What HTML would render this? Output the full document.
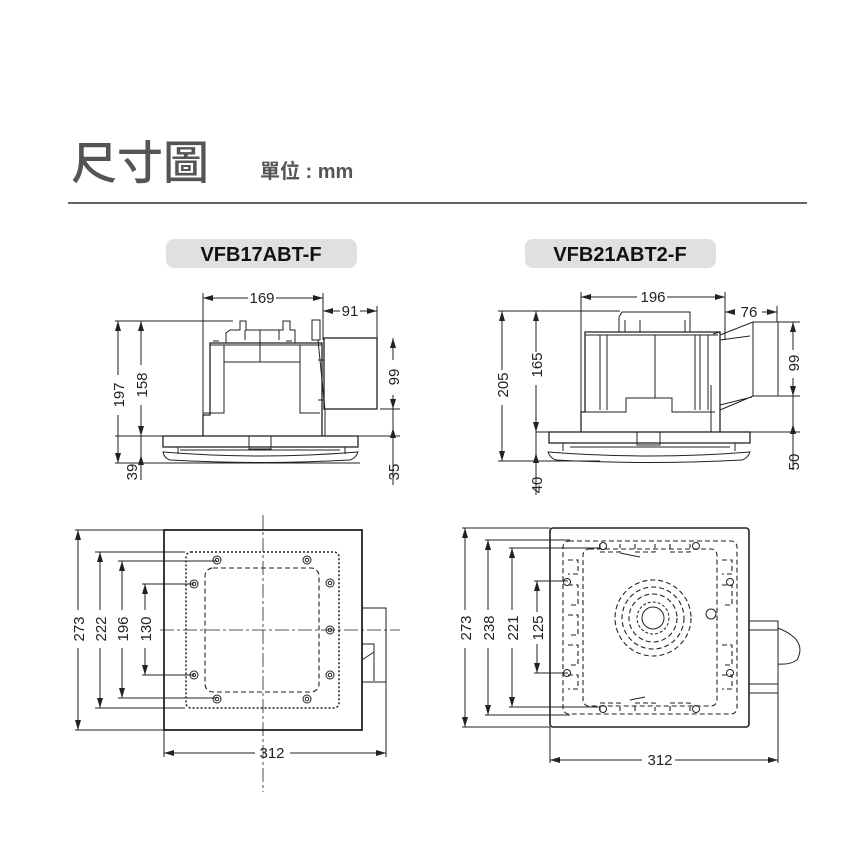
<!DOCTYPE html>
<html><head><meta charset="utf-8"><style>
html,body{margin:0;padding:0;background:#fff}
svg{display:block}
.t{font-family:"Liberation Sans",sans-serif;font-size:15px;fill:#222}
.l{stroke:#222;stroke-width:1;fill:none}
.b{stroke:#222;stroke-width:1.3;fill:none}
.d{stroke:#222;stroke-width:1.1;fill:none;stroke-dasharray:5 3}
.dt{stroke:#222;stroke-width:1.5;fill:none;stroke-dasharray:2 2}
.c{stroke:#222;stroke-width:0.8;fill:none;stroke-dasharray:14 3 3 3}
</style></head><body>
<svg width="850" height="850" viewBox="0 0 850 850" xmlns="http://www.w3.org/2000/svg">
<defs>
<marker id="a" viewBox="0 0 10 6" refX="10" refY="3" markerWidth="10" markerHeight="6" markerUnits="userSpaceOnUse" orient="auto-start-reverse"><path d="M0,0L10,3L0,6z" fill="#222"/></marker>
</defs>
<!-- header -->
<text x="71" y="179" style="font-family:'Liberation Sans','Noto Sans CJK TC',sans-serif;font-size:46px;font-weight:500;fill:#555">尺寸圖</text>
<text x="260" y="178" style="font-family:'Liberation Sans','Noto Sans CJK TC',sans-serif;font-size:20px;font-weight:bold;fill:#555">單位 : mm</text>
<line x1="68" y1="203" x2="807" y2="203" stroke="#666" stroke-width="2"/>
<rect x="166" y="239" width="191" height="29" rx="8" fill="#e0e0e0"/>
<rect x="525" y="239" width="191" height="29" rx="8" fill="#e0e0e0"/>
<text x="261" y="261" text-anchor="middle" style="font-family:'Liberation Sans',sans-serif;font-size:20px;font-weight:bold;fill:#111">VFB17ABT-F</text>
<text x="620" y="261" text-anchor="middle" style="font-family:'Liberation Sans',sans-serif;font-size:20px;font-weight:bold;fill:#111">VFB21ABT2-F</text>

<!-- ===== top-left side view ===== -->
<g>
<path class="l" d="M203 293V436M323 293V340M377 306V338M115 321H233M115 436H400M115 463H360M380 409H400"/>
<path class="l" d="M203 298H248M276 298H323" marker-start="url(#a)" marker-end="url(#a)"/>
<path class="l" d="M323 311H340M360 311H377" marker-start="url(#a)" marker-end="url(#a)"/>
<path class="l" d="M118 321V375M118 415V463" marker-start="url(#a)"/>
<path class="l" d="M118 415V463" marker-end="url(#a)"/>
<path class="l" d="M141 321V365M141 405V436" marker-start="url(#a)"/>
<path class="l" d="M141 405V436" marker-end="url(#a)"/>
<path class="l" d="M141 436V480"/><path class="l" d="M141 463V455" marker-end="url(#a)"/>
<path class="l" d="M393 338V360M393 395V409" marker-start="url(#a)"/>
<path class="l" d="M393 395V409" marker-end="url(#a)"/>
<path class="l" d="M393 409V485"/><path class="l" d="M393 436V428" marker-end="url(#a)"/>
<text class="t" x="262" y="303" text-anchor="middle">169</text>
<text class="t" x="350" y="316" text-anchor="middle">91</text>
<text class="t" transform="translate(124,395) rotate(-90)" text-anchor="middle">197</text>
<text class="t" transform="translate(147,385) rotate(-90)" text-anchor="middle">158</text>
<text class="t" transform="translate(137,472) rotate(-90)" text-anchor="middle">39</text>
<text class="t" transform="translate(399,377) rotate(-90)" text-anchor="middle">99</text>
<text class="t" transform="translate(399,472) rotate(-90)" text-anchor="middle">35</text>
<path class="b" d="M203 436V415H210V343H322V436"/>
<path class="l" d="M210 343V345H322M224 345V362H300V345M224 362V413H203M300 362V413H320"/>
<path class="l" d="M226 343V333L230 330H240V321H246V330H283V321H290V330H295V343M260 330V362M245 330V340M279 330V340"/>
<path class="l" d="M213 341h6M286 341h6"/>
<rect class="l" x="312" y="320" width="8" height="20"/>
<path class="l" d="M318 340L325 410V436M318 360h6V400h-6"/>
<rect class="b" x="324" y="338" width="53" height="71" stroke-width="1"/>
<rect class="b" x="163" y="436" width="195" height="11"/>
<rect class="l" x="249" y="436" width="22" height="13"/>
<path class="l" d="M178 447V454M345 447V454M180 450H340"/>
<path class="l" d="M163 452Q260 460 358 452Q356 458 350 460Q260 465 170 460Q164 458 163 452Z"/>
</g>

<!-- ===== top-right side view ===== -->
<g>
<path class="l" d="M581 292V432M725 292V340M777 306V322M498 311H620M536 432H800M498 461H600M778 322H800M778 396H800"/>
<path class="l" d="M581 297H637M667 297H725" marker-start="url(#a)" marker-end="url(#a)"/>
<path class="l" d="M725 312H735M762 312H777" marker-start="url(#a)" marker-end="url(#a)"/>
<path class="l" d="M502 311V370M502 405V461" marker-start="url(#a)"/>
<path class="l" d="M502 405V461" marker-end="url(#a)"/>
<path class="l" d="M536 311V352M536 385V432" marker-start="url(#a)"/>
<path class="l" d="M536 385V432" marker-end="url(#a)"/>
<path class="l" d="M536 432V495"/><path class="l" d="M536 461V453" marker-end="url(#a)"/>
<path class="l" d="M793 322V350M793 378V396" marker-start="url(#a)"/>
<path class="l" d="M793 378V396" marker-end="url(#a)"/>
<path class="l" d="M793 396V470"/><path class="l" d="M793 432V424" marker-end="url(#a)"/>
<text class="t" x="653" y="302" text-anchor="middle">196</text>
<text class="t" x="749" y="317" text-anchor="middle">76</text>
<text class="t" transform="translate(508,385) rotate(-90)" text-anchor="middle">205</text>
<text class="t" transform="translate(542,365) rotate(-90)" text-anchor="middle">165</text>
<text class="t" transform="translate(542,485) rotate(-90)" text-anchor="middle">40</text>
<text class="t" transform="translate(799,363) rotate(-90)" text-anchor="middle">99</text>
<text class="t" transform="translate(799,462) rotate(-90)" text-anchor="middle">50</text>
<path class="b" d="M581 432V412H585V332H720V432"/>
<path class="l" d="M585 335H718M585 412H626V398H672V412H715M655 335V398M600 335V410M607 335V410M695 335V410M700 335V410M708 335V410M711 385V432"/>
<path class="l" d="M619 332V317L622 312H690V332M625 320v12M685 320v12M640 320v12"/>
<path class="l" d="M713 334L720 332V395"/>
<path class="l" d="M720 335L753 322H778V396H753L720 410M753 322V396M720 340L750 336M720 405L752 397"/>
<rect class="b" x="549" y="432" width="201" height="11"/>
<rect class="l" x="637" y="432" width="23" height="13"/>
<path class="l" d="M563 443V451M735 443V451M570 447H730"/>
<path class="l" d="M548 452Q650 460 750 452Q748 458 742 460Q650 465 556 460Q550 458 548 452Z"/>
</g>

<!-- ===== bottom-left plan ===== -->
<g>
<path class="l" d="M75 530H164M75 730H164M95 552H185M118 561H217M142 584H194M142 675H194M118 698H217M95 708H185"/>
<path class="l" d="M164 730V757M386 682V757"/>
<path class="l" d="M78 530V610M78 648V730" marker-start="url(#a)"/><path class="l" d="M78 648V730" marker-end="url(#a)"/>
<path class="l" d="M100 552V610M100 648V708" marker-start="url(#a)"/><path class="l" d="M100 648V708" marker-end="url(#a)"/>
<path class="l" d="M122 561V610M122 648V698" marker-start="url(#a)"/><path class="l" d="M122 648V698" marker-end="url(#a)"/>
<path class="l" d="M145 584V610M145 648V675" marker-start="url(#a)"/><path class="l" d="M145 648V675" marker-end="url(#a)"/>
<path class="l" d="M164 753H255M290 753H386" marker-start="url(#a)"/><path class="l" d="M290 753H386" marker-end="url(#a)"/>
<text class="t" transform="translate(84,629) rotate(-90)" text-anchor="middle">273</text>
<text class="t" transform="translate(106,629) rotate(-90)" text-anchor="middle">222</text>
<text class="t" transform="translate(128,629) rotate(-90)" text-anchor="middle">196</text>
<text class="t" transform="translate(151,629) rotate(-90)" text-anchor="middle">130</text>
<text class="t" x="272" y="758" text-anchor="middle">312</text>
<rect x="164" y="530" width="198" height="200" fill="none" stroke="#222" stroke-width="1.8"/>
<rect class="dt" x="186" y="552" width="153" height="156" rx="5"/>
<rect class="d" x="205" y="568" width="114" height="124" rx="8" stroke-dasharray="2 2"/>
<rect class="l" x="362" y="608" width="24" height="74"/>
<path class="l" d="M362 644H374V681M362 660L374 652"/>
<line class="c" x1="263" y1="515" x2="263" y2="792"/>
<line class="c" x1="160" y1="630" x2="400" y2="630"/>
<g class="l" stroke-width="1.3">
<circle cx="217" cy="560" r="4"/><circle cx="307" cy="560" r="4"/><circle cx="194" cy="584" r="4"/><circle cx="330" cy="583" r="4"/>
<circle cx="330" cy="630" r="4"/><circle cx="194" cy="675" r="4"/><circle cx="330" cy="675" r="4"/><circle cx="217" cy="699" r="4"/><circle cx="307" cy="699" r="4"/>
<circle cx="217" cy="560" r="1.8"/><circle cx="307" cy="560" r="1.8"/><circle cx="194" cy="584" r="1.8"/><circle cx="330" cy="630" r="1.8"/><circle cx="194" cy="675" r="1.5"/><circle cx="307" cy="699" r="1.8"/><circle cx="330" cy="583" r="1.8"/><circle cx="330" cy="675" r="1.8"/><circle cx="217" cy="699" r="1.8"/>
</g>
</g>

<!-- ===== bottom-right plan ===== -->
<g>
<path class="l" d="M462 528H550M462 727H550M485 540H570M509 548H600M534 581H568M534 673H568M509 707H600M485 715H570"/>
<path class="l" d="M550 727V763M778 693V763"/>
<path class="l" d="M465 528V610M465 648V727" marker-start="url(#a)"/><path class="l" d="M465 648V727" marker-end="url(#a)"/>
<path class="l" d="M488 540V610M488 648V715" marker-start="url(#a)"/><path class="l" d="M488 648V715" marker-end="url(#a)"/>
<path class="l" d="M512 548V610M512 648V707" marker-start="url(#a)"/><path class="l" d="M512 648V707" marker-end="url(#a)"/>
<path class="l" d="M537 581V612M537 644V673" marker-start="url(#a)"/><path class="l" d="M537 644V673" marker-end="url(#a)"/>
<path class="l" d="M550 760H642M675 760H778" marker-start="url(#a)"/><path class="l" d="M675 760H778" marker-end="url(#a)"/>
<text class="t" transform="translate(471,628) rotate(-90)" text-anchor="middle">273</text>
<text class="t" transform="translate(494,628) rotate(-90)" text-anchor="middle">238</text>
<text class="t" transform="translate(518,628) rotate(-90)" text-anchor="middle">221</text>
<text class="t" transform="translate(543,628) rotate(-90)" text-anchor="middle">125</text>
<text class="t" x="660" y="765" text-anchor="middle">312</text>
<rect x="550" y="528" width="199" height="199" rx="3" fill="none" stroke="#222" stroke-width="1.6"/>
<rect class="d" x="563" y="541" width="174" height="173" rx="6"/>
<rect class="d" x="583" y="549" width="134" height="157" rx="6"/>
<path class="d" d="M568 560h10v14h-10M568 585h10v20h-10M568 615h10v20h-10M568 645h10v20h-10M568 675h10v14h-10M722 560h10v14h-10M722 585h10v20h-10M722 645h10v20h-10M722 675h10v14h-10M600 544v8h20v-8M635 544v8h20v-8M670 544v8h20v-8M600 711v-8h20v8M635 711v-8h20v8M670 711v-8h20v8"/>
<circle class="d" cx="653" cy="618" r="38"/>
<circle class="d" cx="653" cy="618" r="31"/>
<circle class="d" cx="653" cy="618" r="24"/>
<circle class="l" cx="653" cy="618" r="16" stroke-dasharray="3 2"/>
<circle class="l" cx="653" cy="618" r="11"/>
<g class="l" stroke-width="1.3">
<circle cx="603" cy="546" r="3.5"/><circle cx="696" cy="546" r="3.5"/><circle cx="567" cy="582" r="3.5"/><circle cx="730" cy="582" r="3.5"/>
<circle cx="567" cy="673" r="3.5"/><circle cx="730" cy="673" r="3.5"/><circle cx="603" cy="709" r="3.5"/><circle cx="696" cy="709" r="3.5"/>
<circle cx="711" cy="614" r="5"/>
</g>
<path class="l" d="M749 621H778V693H749M749 630H778M749 684H778M778 628Q808 640 797 660Q790 665 778 664"/>
<path class="l" d="M620 553L640 557M630 700L645 697"/>
</g>
</svg>
</body></html>
